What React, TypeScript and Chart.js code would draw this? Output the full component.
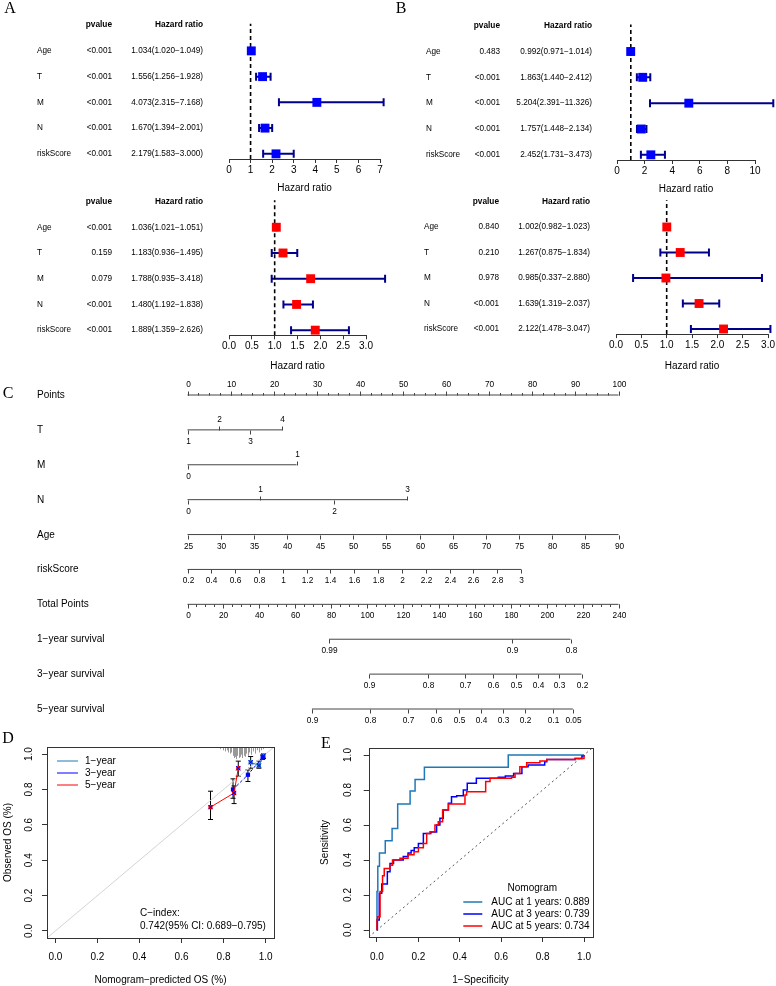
import React, { useEffect, useRef } from 'react';
import { Chart, registerables } from 'chart.js';

Chart.register(...registerables);

const SANS = "'Liberation Sans', Arial, Helvetica, sans-serif";
const SERIF = "'Liberation Serif', 'Times New Roman', serif";
Chart.defaults.font.family = SANS;
Chart.defaults.color = '#000';

// ---------------- Forest plots (A, B) ----------------
const forestVars = ['Age', 'T', 'M', 'N', 'riskScore'];

const aUniP = ['<0.001', '<0.001', '<0.001', '<0.001', '<0.001'];
const aUniHR = [1.034, 1.556, 4.073, 1.67, 2.179];
const aUniLo = [1.02, 1.256, 2.315, 1.394, 1.583];
const aUniHi = [1.049, 1.928, 7.168, 2.001, 3.0];

const aMultiP = ['<0.001', '0.159', '0.079', '<0.001', '<0.001'];
const aMultiHR = [1.036, 1.183, 1.788, 1.48, 1.889];
const aMultiLo = [1.021, 0.936, 0.935, 1.192, 1.359];
const aMultiHi = [1.051, 1.495, 3.418, 1.838, 2.626];

const bUniP = ['0.483', '<0.001', '<0.001', '<0.001', '<0.001'];
const bUniHR = [0.992, 1.863, 5.204, 1.757, 2.452];
const bUniLo = [0.971, 1.44, 2.391, 1.448, 1.731];
const bUniHi = [1.014, 2.412, 11.326, 2.134, 3.473];

const bMultiP = ['0.840', '0.210', '0.978', '<0.001', '<0.001'];
const bMultiHR = [1.002, 1.267, 0.985, 1.639, 2.122];
const bMultiLo = [0.982, 0.875, 0.337, 1.319, 1.478];
const bMultiHi = [1.023, 1.834, 2.88, 2.037, 3.047];

const aUniTicks = [0, 1, 2, 3, 4, 5, 6, 7];
const bUniTicks = [0, 2, 4, 6, 8, 10];
const multiTicks = [0, 0.5, 1, 1.5, 2, 2.5, 3];

// ---------------- Nomogram (C) ----------------
const nomoNames = ['Points', 'T', 'M', 'N', 'Age', 'riskScore', 'Total Points',
  '1\u2212year survival', '3\u2212year survival', '5\u2212year survival'];
const pointsTicks = [0, 10, 20, 30, 40, 50, 60, 70, 80, 90, 100];
const tLevels = ['1', '2', '3', '4'];
const tPoints = [0, 7.2, 14.5, 22.0];
const mLevels = ['0', '1'];
const mPoints = [0, 25.3];
const nLevels = ['0', '1', '2', '3'];
const nPoints = [0, 16.8, 34.0, 51.0];
const ageTicks = [25, 30, 35, 40, 45, 50, 55, 60, 65, 70, 75, 80, 85, 90];
const agePointsMax = 100;
const riskTicks = [0.2, 0.4, 0.6, 0.8, 1, 1.2, 1.4, 1.6, 1.8, 2, 2.2, 2.4, 2.6, 2.8, 3];
const riskPointsMax = 77.4;
const totalTicks = [0, 20, 40, 60, 80, 100, 120, 140, 160, 180, 200, 220, 240];
const surv1Labels = ['0.99', '0.9', '0.8'];
const surv1Total = [78.8, 180.7, 213.3];
const surv3Labels = ['0.9', '0.8', '0.7', '0.6', '0.5', '0.4', '0.3', '0.2'];
const surv3Total = [101.3, 133.9, 154.5, 170.1, 183.2, 195.2, 206.9, 219.4];
const surv5Labels = ['0.9', '0.8', '0.7', '0.6', '0.5', '0.4', '0.3', '0.2', '0.1', '0.05'];
const surv5Total = [69.3, 101.6, 122.8, 138.4, 151.2, 163.4, 175.7, 187.9, 203.5, 214.6];

// ---------------- Calibration (D) ----------------
const calTicks = [0, 0.2, 0.4, 0.6, 0.8, 1.0];
const calYears = ['1\u2212year', '3\u2212year', '5\u2212year'];
const cal1X = [0.929, 0.968, 0.99];
const cal1Y = [0.954, 0.935, 0.99];
const cal1Lo = [0.92, 0.92, 0.975];
const cal1Hi = [0.986, 0.96, 1.0];
const cal3X = [0.845, 0.916, 0.986];
const cal3Y = [0.8, 0.883, 0.982];
const cal3Lo = [0.75, 0.845, 0.97];
const cal3Hi = [0.86, 0.91, 0.995];
const cal5X = [0.738, 0.85, 0.87];
const cal5Y = [0.7, 0.78, 0.92];
const cal5Lo = [0.63, 0.72, 0.875];
const cal5Hi = [0.79, 0.82, 0.96];
const rugX = [0.785, 0.795, 0.805, 0.815, 0.822, 0.83, 0.837, 0.845, 0.85, 0.855,
  0.86, 0.866, 0.872, 0.878, 0.884, 0.89, 0.896, 0.902, 0.908, 0.915, 0.922, 0.93, 0.94,
  0.95, 0.96, 0.97, 0.98, 0.988];
const rugCount = [2, 3, 4, 3, 5, 6, 5, 8, 10, 9, 11, 8, 10, 9, 7, 10, 8, 9, 6, 8, 5, 7, 4, 6, 3, 5, 3, 2];

// ---------------- ROC (E) ----------------
const rocLabels = ['AUC at 1 years: 0.889', 'AUC at 3 years: 0.739', 'AUC at 5 years: 0.734'];
const roc1 = [[0, 0], [0, 0.22], [0.004, 0.365], [0.012, 0.44], [0.04, 0.51], [0.073, 0.58], [0.1, 0.72],
  [0.16, 0.795], [0.184, 0.86], [0.229, 0.93], [0.634, 1.0], [1.0, 1.0]];
const roc3 = [[0, 0], [0.002, 0.057], [0.011, 0.21], [0.023, 0.263], [0.05, 0.333], [0.063, 0.38],
  [0.08, 0.4], [0.127, 0.42], [0.15, 0.44], [0.165, 0.455], [0.18, 0.47], [0.2, 0.495], [0.224, 0.552],
  [0.26, 0.56], [0.288, 0.6], [0.304, 0.638], [0.32, 0.686], [0.345, 0.724], [0.36, 0.762],
  [0.385, 0.767], [0.417, 0.8], [0.436, 0.838], [0.48, 0.867], [0.586, 0.873], [0.62, 0.88],
  [0.66, 0.895], [0.7, 0.933], [0.73, 0.943], [0.81, 0.962], [0.82, 0.975], [0.957, 0.98],
  [0.99, 0.995], [1.0, 1.0]];
const roc5 = [[0, 0], [0, 0.06], [0.003, 0.076], [0.015, 0.22], [0.027, 0.31], [0.035, 0.352],
  [0.063, 0.37], [0.075, 0.4], [0.111, 0.41], [0.15, 0.43], [0.179, 0.447], [0.2, 0.47],
  [0.224, 0.495], [0.24, 0.552], [0.256, 0.562], [0.28, 0.6], [0.296, 0.619], [0.317, 0.686],
  [0.345, 0.72], [0.425, 0.771], [0.433, 0.79], [0.525, 0.848], [0.546, 0.867], [0.65, 0.873],
  [0.667, 0.895], [0.69, 0.933], [0.723, 0.956], [0.787, 0.966], [0.82, 0.975], [0.957, 0.98],
  [1.0, 0.99], [1.0, 1.0]];

const C1 = '#1F78B8';
const C3 = '#0000FF';
const C5 = '#FF0000';

const f3 = (v: number) => v.toFixed(3);

// ---------------- generic canvas panel ----------------
function Panel(props: { left: number; top: number; width: number; height: number; make: () => any }) {
  const ref = useRef<HTMLCanvasElement>(null);
  useEffect(() => {
    const chart = new Chart(ref.current as HTMLCanvasElement, props.make());
    return () => chart.destroy();
  }, []);
  return (
    <canvas
      ref={ref}
      width={props.width}
      height={props.height}
      style={{ position: 'absolute', left: props.left, top: props.top, width: props.width, height: props.height }}
    />
  );
}

// ---------------- forest config ----------------
type ForestSpec = {
  w: number; h: number; l: number; r: number; t: number; b: number; axisH: number;
  ticks: number[]; nameX: number; pX: number; hrX: number;
  p: string[]; hr: number[]; lo: number[]; hi: number[]; color: string;
};

function forestConfig(s: ForestSpec) {
  const rows = forestVars.map((_, i) => forestVars.length - i);
  const plugin = {
    id: 'forestDraw',
    beforeDatasetsDraw(chart: any) {
      const { ctx, scales } = chart;
      const x = scales.x, y = scales.y;
      ctx.save();
      ctx.strokeStyle = '#00008B';
      ctx.lineWidth = 2;
      s.lo.forEach((lo, i) => {
        const py = y.getPixelForValue(rows[i]);
        const x1 = x.getPixelForValue(lo);
        const x2 = x.getPixelForValue(s.hi[i]);
        ctx.beginPath();
        ctx.moveTo(x1, py); ctx.lineTo(x2, py);
        ctx.moveTo(x1, py - 4); ctx.lineTo(x1, py + 4);
        ctx.moveTo(x2, py - 4); ctx.lineTo(x2, py + 4);
        ctx.stroke();
      });
      ctx.restore();
    },
    afterDraw(chart: any) {
      const { ctx, scales } = chart;
      const y = scales.y;
      ctx.save();
      ctx.fillStyle = '#000';
      ctx.textBaseline = 'middle';
      const hy = y.getPixelForValue(forestVars.length + 1);
      ctx.font = `bold 8.3px ${SANS}`;
      ctx.textAlign = 'right';
      ctx.fillText('pvalue', s.pX, hy);
      ctx.fillText('Hazard ratio', s.hrX, hy);
      ctx.font = `8.2px ${SANS}`;
      forestVars.forEach((name, i) => {
        const py = y.getPixelForValue(rows[i]);
        ctx.textAlign = 'left';
        ctx.fillText(name, s.nameX, py);
        ctx.textAlign = 'right';
        ctx.fillText(s.p[i], s.pX, py);
        ctx.fillText(`${f3(s.hr[i])}(${f3(s.lo[i])}\u2212${f3(s.hi[i])})`, s.hrX, py);
      });
      ctx.restore();
    },
  };
  return {
    type: 'scatter',
    data: {
      datasets: [
        {
          type: 'line',
          data: [{ x: 1, y: 0.8 }, { x: 1, y: forestVars.length + 1.05 }],
          borderColor: '#000', borderWidth: 1.6, borderDash: [4, 3], pointRadius: 0, order: 2,
        },
        {
          data: s.hr.map((v, i) => ({ x: v, y: rows[i] })),
          pointStyle: 'rect', pointRadius: 6.3, backgroundColor: s.color, borderColor: s.color,
          borderWidth: 0, clip: false, order: 1,
        },
      ],
    },
    options: {
      animation: false, responsive: false, events: [],
      layout: { padding: { left: s.l, right: s.w - s.r, top: s.t, bottom: s.h - s.b - s.axisH } },
      plugins: { legend: { display: false }, tooltip: { enabled: false } },
      scales: {
        x: {
          type: 'linear', min: s.ticks[0], max: s.ticks[s.ticks.length - 1],
          afterBuildTicks: (sc: any) => { sc.ticks = s.ticks.map((v) => ({ value: v })); },
          afterFit: (sc: any) => { sc.height = s.axisH; },
          grid: { drawOnChartArea: false, tickLength: 4, color: '#333' },
          border: { color: '#333', width: 1 },
          ticks: {
            padding: 1, font: { size: 10 }, color: '#000', maxRotation: 0, autoSkip: false,
            callback: (v: any) => (s.ticks.some((t) => !Number.isInteger(t)) ? Number(v).toFixed(1) : String(v)),
          },
          title: { display: true, text: 'Hazard ratio', font: { size: 10 }, padding: 0, color: '#000' },
        },
        y: { type: 'linear', min: 0.8, max: forestVars.length + 1.2, display: false },
      },
    },
    plugins: [plugin],
  };
}

// ---------------- nomogram config ----------------
type NomoRow = { axis: 'x' | 'xt'; pos: number[]; labels: string[]; side: number[]; minor?: number[] };

function nomoConfig() {
  const linMap = (vals: number[], ptsMax: number) =>
    vals.map((v) => ((v - vals[0]) / (vals[vals.length - 1] - vals[0])) * ptsMax);
  const alt = (n: number) => Array.from({ length: n }, (_, i) => (i % 2 === 0 ? 1 : -1));
  const all = (n: number, s: number) => Array.from({ length: n }, () => s);
  const pointsMinor: number[] = [];
  for (let v = 0; v <= 100; v += 2.5) pointsMinor.push(v);
  const totalMinor: number[] = [];
  for (let v = 0; v <= 240; v += 5) totalMinor.push(v);
  const rows: NomoRow[] = [
    { axis: 'x', pos: pointsTicks, labels: pointsTicks.map(String), side: all(pointsTicks.length, -1), minor: pointsMinor },
    { axis: 'x', pos: tPoints, labels: tLevels, side: alt(tLevels.length) },
    { axis: 'x', pos: mPoints, labels: mLevels, side: alt(mLevels.length) },
    { axis: 'x', pos: nPoints, labels: nLevels, side: alt(nLevels.length) },
    { axis: 'x', pos: linMap(ageTicks, agePointsMax), labels: ageTicks.map(String), side: all(ageTicks.length, 1) },
    { axis: 'x', pos: linMap(riskTicks, riskPointsMax), labels: riskTicks.map(String), side: all(riskTicks.length, 1) },
    { axis: 'xt', pos: totalTicks, labels: totalTicks.map(String), side: all(totalTicks.length, 1), minor: totalMinor },
    { axis: 'xt', pos: surv1Total, labels: surv1Labels, side: all(surv1Labels.length, 1) },
    { axis: 'xt', pos: surv3Total, labels: surv3Labels, side: all(surv3Labels.length, 1) },
    { axis: 'xt', pos: surv5Total, labels: surv5Labels, side: all(surv5Labels.length, 1) },
  ];
  const plugin = {
    id: 'nomoDraw',
    afterDatasetsDraw(chart: any) {
      const { ctx, scales } = chart;
      const y = scales.y;
      ctx.save();
      ctx.strokeStyle = '#444';
      ctx.lineWidth = 1;
      ctx.fillStyle = '#000';
      rows.forEach((row, ri) => {
        const sc = scales[row.axis];
        const py = Math.round(y.getPixelForValue(ri)) + 0.5;
        ctx.font = `10px ${SANS}`;
        ctx.textAlign = 'left';
        ctx.textBaseline = 'middle';
        ctx.fillText(nomoNames[ri], 37, py);
        if (row.minor) {
          ctx.beginPath();
          row.minor.forEach((v) => {
            const px = Math.round(sc.getPixelForValue(v)) + 0.5;
            const d = row.side[0];
            ctx.moveTo(px, py); ctx.lineTo(px, py + d * 2.5);
          });
          ctx.stroke();
        }
        ctx.font = `8.3px ${SANS}`;
        ctx.textAlign = 'center';
        row.pos.forEach((v, i) => {
          const px = Math.round(sc.getPixelForValue(v)) + 0.5;
          const d = row.side[i];
          ctx.beginPath();
          ctx.moveTo(px, py); ctx.lineTo(px, py + d * 4);
          ctx.stroke();
          ctx.fillText(row.labels[i], px, py + d * 11);
        });
      });
      ctx.restore();
    },
  };
  return {
    type: 'scatter',
    data: {
      datasets: rows.map((row, ri) => ({
        type: 'line',
        xAxisID: row.axis,
        data: [{ x: row.pos[0], y: ri }, { x: row.pos[row.pos.length - 1], y: ri }],
        borderColor: '#444', borderWidth: 1, pointRadius: 0, clip: false,
      })),
    },
    options: {
      animation: false, responsive: false, events: [],
      layout: { padding: { left: 187.5, right: 776 - 618.5, top: 25, bottom: 21 } },
      plugins: { legend: { display: false }, tooltip: { enabled: false } },
      scales: {
        x: { type: 'linear', min: 0, max: 100, display: false },
        xt: { type: 'linear', axis: 'x', min: 0, max: 240, display: false },
        y: { type: 'linear', min: 0, max: nomoNames.length - 1, reverse: true, display: false },
      },
    },
    plugins: [plugin],
  };
}

// ---------------- shared axis for D/E ----------------
function boxAxes(xTitle: string, yTitle: string, yW: number, xH: number, yTitlePad: number, labPad: number) {
  const tickFmt = (v: any) => Number(v).toFixed(1);
  return {
    x: {
      type: 'linear', min: -0.04, max: 1.04,
      afterBuildTicks: (sc: any) => { sc.ticks = calTicks.map((v) => ({ value: v })); },
      afterFit: (sc: any) => { sc.height = xH; },
      grid: { drawOnChartArea: false, tickLength: 5, color: '#333' },
      border: { display: false },
      ticks: { padding: labPad, font: { size: 10 }, color: '#000', maxRotation: 0, autoSkip: false, callback: tickFmt },
      title: { display: true, text: xTitle, font: { size: 10 }, padding: 0, color: '#000' },
    },
    y: {
      type: 'linear', min: -0.04, max: 1.04,
      afterBuildTicks: (sc: any) => { sc.ticks = calTicks.map((v) => ({ value: v })); },
      afterFit: (sc: any) => { sc.width = yW; },
      grid: { drawOnChartArea: false, tickLength: 5, color: '#333' },
      border: { display: false },
      ticks: { callback: () => '', autoSkip: false },
      title: { display: true, text: yTitle, font: { size: 10 }, padding: { top: yTitlePad, bottom: 0 }, color: '#000' },
    },
  };
}

function boxPlugin(labelOffset: number) {
  return {
    id: 'boxDraw',
    afterDraw(chart: any) {
      const { ctx, chartArea: ca, scales } = chart;
      ctx.save();
      ctx.strokeStyle = '#333';
      ctx.lineWidth = 1;
      ctx.strokeRect(Math.round(ca.left) + 0.5, Math.round(ca.top) + 0.5,
        Math.round(ca.right - ca.left), Math.round(ca.bottom - ca.top));
      ctx.fillStyle = '#000';
      ctx.font = `10px ${SANS}`;
      ctx.textAlign = 'center';
      ctx.textBaseline = 'middle';
      calTicks.forEach((v) => {
        const py = scales.y.getPixelForValue(v);
        ctx.save();
        ctx.translate(ca.left - labelOffset, py);
        ctx.rotate(-Math.PI / 2);
        ctx.fillText(v.toFixed(1), 0, 0);
        ctx.restore();
      });
      ctx.restore();
    },
  };
}

// ---------------- calibration config ----------------
function calConfig() {
  const xy = (xs: number[], ys: number[]) => xs.map((x, i) => ({ x, y: ys[i] }));
  const series = [
    { x: cal1X, y: cal1Y, lo: cal1Lo, hi: cal1Hi, c: C1, dash: [] as number[] },
    { x: cal3X, y: cal3Y, lo: cal3Lo, hi: cal3Hi, c: C3, dash: [3, 2] },
    { x: cal5X, y: cal5Y, lo: cal5Lo, hi: cal5Hi, c: C5, dash: [] as number[] },
  ];
  const plugin = {
    id: 'calDraw',
    beforeDatasetsDraw(chart: any) {
      const { ctx, scales, chartArea: ca } = chart;
      ctx.save();
      // rug of predicted values hanging from the top border
      ctx.strokeStyle = '#999';
      ctx.lineWidth = 1;
      ctx.beginPath();
      rugX.forEach((v, i) => {
        const px = Math.round(scales.x.getPixelForValue(v)) + 0.5;
        ctx.moveTo(px, ca.top);
        ctx.lineTo(px, ca.top + rugCount[i] * 1.1);
      });
      ctx.stroke();
      // error bars
      ctx.strokeStyle = '#000';
      ctx.lineWidth = 1;
      series.forEach((s) => {
        s.x.forEach((xv, i) => {
          const px = scales.x.getPixelForValue(xv);
          const y1 = scales.y.getPixelForValue(s.lo[i]);
          const y2 = scales.y.getPixelForValue(s.hi[i]);
          ctx.beginPath();
          ctx.moveTo(px, y1); ctx.lineTo(px, y2);
          ctx.moveTo(px - 2.5, y1); ctx.lineTo(px + 2.5, y1);
          ctx.moveTo(px - 2.5, y2); ctx.lineTo(px + 2.5, y2);
          ctx.stroke();
        });
      });
      ctx.restore();
    },
    afterDraw(chart: any) {
      const { ctx, chartArea: ca } = chart;
      ctx.save();
      ctx.font = `10px ${SANS}`;
      ctx.textBaseline = 'middle';
      ctx.textAlign = 'left';
      series.forEach((s, i) => {
        const ly = ca.top + 14 + i * 12;
        ctx.strokeStyle = s.c;
        ctx.lineWidth = 1;
        ctx.beginPath();
        ctx.moveTo(ca.left + 10, ly); ctx.lineTo(ca.left + 31, ly);
        ctx.stroke();
        ctx.fillStyle = '#000';
        ctx.fillText(calYears[i], ca.left + 38, ly);
      });
      ctx.fillText('C\u2212index:', ca.left + 93, ca.bottom - 25);
      ctx.fillText('0.742(95% CI: 0.689\u22120.795)', ca.left + 93, ca.bottom - 12);
      ctx.restore();
    },
  };
  const datasets: any[] = [
    {
      type: 'line', data: [{ x: -0.04, y: -0.04 }, { x: 1.04, y: 1.04 }],
      borderColor: '#d4d4d4', borderWidth: 1, pointRadius: 0, order: 5,
    },
  ];
  series.forEach((s, i) => {
    datasets.push({
      type: 'line', label: calYears[i], data: xy(s.x, s.y), borderColor: s.c, borderWidth: 1,
      borderDash: s.dash, pointStyle: 'rect', pointRadius: 3, backgroundColor: s.c,
      pointBorderColor: s.c, pointBorderWidth: 0, order: 4 - i,
    });
  });
  datasets.push({
    type: 'scatter', data: [...xy(cal5X, cal5Y), ...xy(cal1X, cal1Y)], pointStyle: 'crossRot',
    pointRadius: 3, borderColor: C3, borderWidth: 1, order: 0,
  });
  return {
    type: 'scatter',
    data: { datasets },
    options: {
      animation: false, responsive: false, events: [],
      layout: { padding: { left: 0, right: 16, top: 19, bottom: 0 } },
      plugins: { legend: { display: false }, tooltip: { enabled: false } },
      scales: boxAxes('Nomogram\u2212predicted OS (%)', 'Observed OS (%)', 47, 48, 2, 8),
    },
    plugins: [boxPlugin(18), plugin],
  };
}

// ---------------- ROC config ----------------
function rocConfig() {
  const pts = (arr: number[][]) => arr.map((p) => ({ x: p[0], y: p[1] }));
  const cols = [C1, C3, C5];
  const plugin = {
    id: 'rocLegend',
    afterDraw(chart: any) {
      const { ctx, chartArea: ca } = chart;
      ctx.save();
      ctx.fillStyle = '#000';
      ctx.font = `10px ${SANS}`;
      ctx.textBaseline = 'middle';
      ctx.textAlign = 'center';
      ctx.fillText('Nomogram', ca.right - 60, ca.bottom - 49);
      ctx.textAlign = 'left';
      rocLabels.forEach((lab, i) => {
        const ly = ca.bottom - 35 + i * 12;
        ctx.strokeStyle = cols[i];
        ctx.lineWidth = 1.5;
        ctx.beginPath();
        ctx.moveTo(ca.right - 129, ly); ctx.lineTo(ca.right - 110, ly);
        ctx.stroke();
        ctx.fillText(lab, ca.right - 101, ly);
      });
      ctx.restore();
    },
  };
  return {
    type: 'scatter',
    data: {
      datasets: [
        {
          type: 'line', data: [{ x: -0.04, y: -0.04 }, { x: 1.04, y: 1.04 }],
          borderColor: '#555', borderWidth: 1, borderDash: [2, 3], pointRadius: 0, order: 5,
        },
        { type: 'line', label: rocLabels[0], data: pts(roc1), stepped: 'before', borderColor: C1, borderWidth: 1.5, pointRadius: 0, order: 3 },
        { type: 'line', label: rocLabels[1], data: pts(roc3), stepped: 'before', borderColor: C3, borderWidth: 1.5, pointRadius: 0, order: 2 },
        { type: 'line', label: rocLabels[2], data: pts(roc5), stepped: 'before', borderColor: C5, borderWidth: 1.5, pointRadius: 0, order: 1 },
      ],
    },
    options: {
      animation: false, responsive: false, events: [],
      layout: { padding: { left: 0, right: 19.7, top: 20, bottom: 0 } },
      plugins: { legend: { display: false }, tooltip: { enabled: false } },
      scales: boxAxes('1\u2212Specificity', 'Sensitivity', 56.7, 49, 7, 9),
    },
    plugins: [boxPlugin(20), plugin],
  };
}

function Letter(props: { ch: string; x: number; y: number }) {
  return (
    <div
      style={{
        position: 'absolute', left: props.x, top: props.y, transform: 'translate(-50%, -50%)',
        fontFamily: SERIF, fontSize: 16, lineHeight: 1, color: '#000',
      }}
    >
      {props.ch}
    </div>
  );
}

export default function App() {
  return (
    <div style={{ position: 'absolute', left: 0, top: 0, width: 776, height: 986, background: '#fff', overflow: 'hidden' }}>
      <Panel left={0} top={0} width={390} height={200} make={() => forestConfig({
        w: 390, h: 200, l: 229, r: 380, t: 20, b: 159, axisH: 35, ticks: aUniTicks,
        nameX: 37, pX: 112, hrX: 203, p: aUniP, hr: aUniHR, lo: aUniLo, hi: aUniHi, color: '#0000FF',
      })} />
      <Panel left={0} top={185} width={390} height={195} make={() => forestConfig({
        w: 390, h: 195, l: 229, r: 366, t: 11.4, b: 150.3, axisH: 36.7, ticks: multiTicks,
        nameX: 37, pX: 112, hrX: 203, p: aMultiP, hr: aMultiHR, lo: aMultiLo, hi: aMultiHi, color: '#FF0000',
      })} />
      <Panel left={390} top={0} width={386} height={200} make={() => forestConfig({
        w: 386, h: 200, l: 227, r: 365, t: 20.5, b: 160, axisH: 35, ticks: bUniTicks,
        nameX: 36, pX: 110, hrX: 202, p: bUniP, hr: bUniHR, lo: bUniLo, hi: bUniHi, color: '#0000FF',
      })} />
      <Panel left={390} top={185} width={386} height={195} make={() => forestConfig({
        w: 386, h: 195, l: 226, r: 381, t: 11.4, b: 149.1, axisH: 37.9, ticks: multiTicks,
        nameX: 34, pX: 109, hrX: 200, p: bMultiP, hr: bMultiHR, lo: bMultiLo, hi: bMultiHi, color: '#FF0000',
      })} />
      <Panel left={0} top={370} width={776} height={360} make={nomoConfig} />
      <Panel left={0} top={728} width={290} height={258} make={calConfig} />
      <Panel left={312} top={728} width={300} height={258} make={rocConfig} />
      <Letter ch="A" x={10} y={8} />
      <Letter ch="B" x={401} y={8} />
      <Letter ch="C" x={8} y={393} />
      <Letter ch="D" x={8} y={738} />
      <Letter ch="E" x={326} y={743} />
    </div>
  );
}
